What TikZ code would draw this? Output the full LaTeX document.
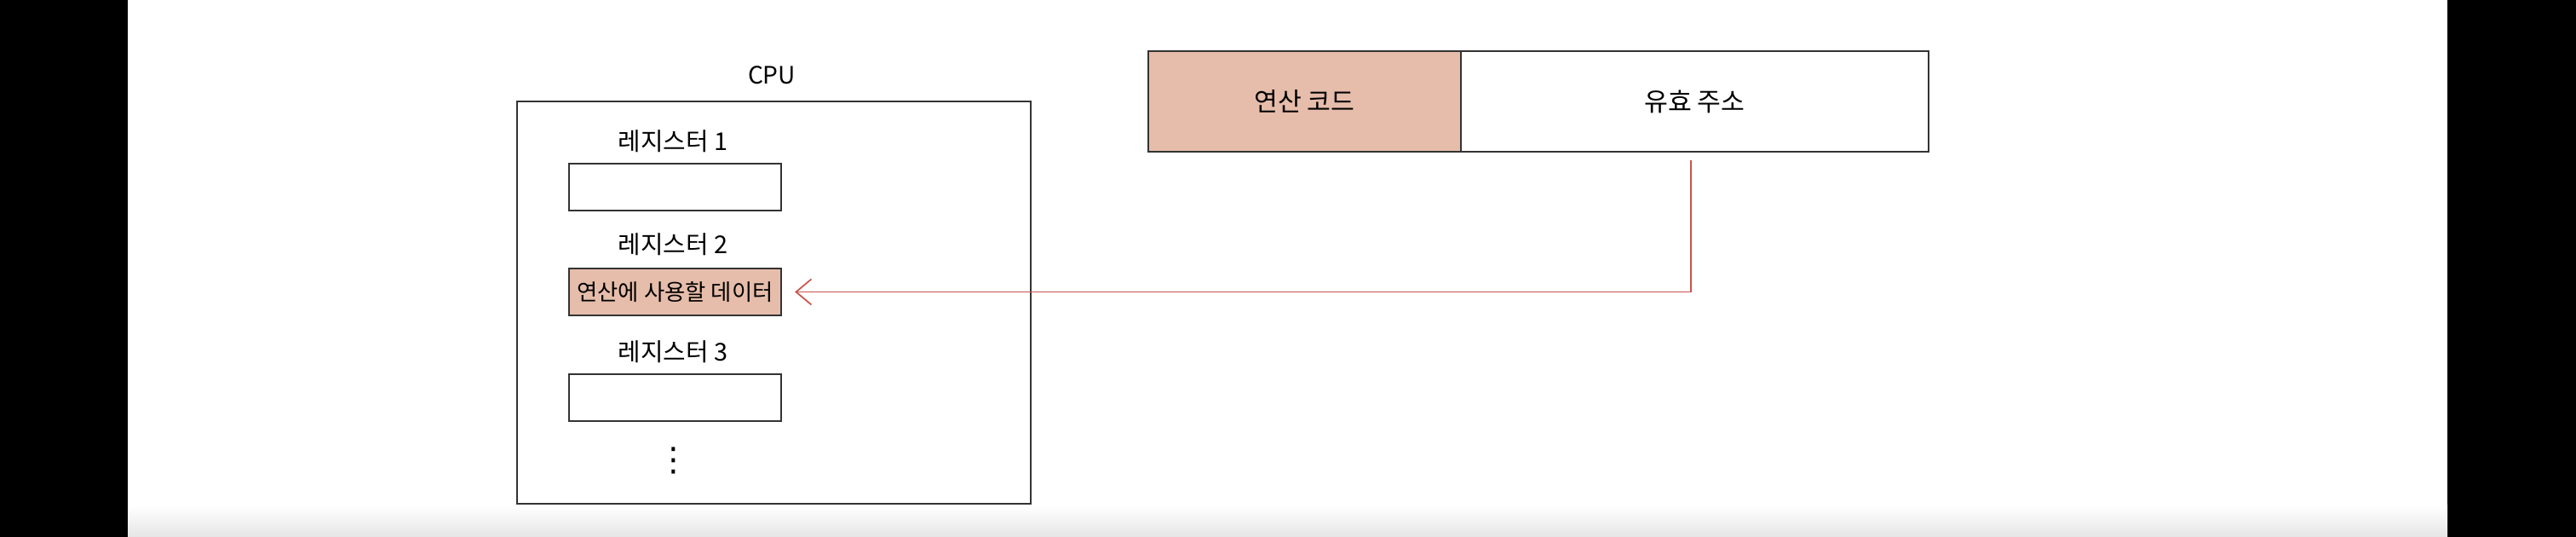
\documentclass[tikz,border=0pt]{standalone}
\usepackage{fontspec}
\setmainfont{Noto Sans CJK KR}
\newfontfamily\dotsfont{DejaVu Sans}
\usepackage{tikz}
\usetikzlibrary{arrows.meta,positioning,calc}
\definecolor{opfill}{HTML}{E6BDAA}
\definecolor{ptrred}{HTML}{C8554F}
\tikzset{
  cpubox/.style={rectangle, draw=black!80, line width=0.6pt, minimum width=6.03cm, minimum height=4.72cm, inner sep=0pt},
  regbox/.style={rectangle, draw=black!80, line width=0.6pt, minimum width=2.49cm, minimum height=0.55cm, inner sep=0pt, align=center, fill=white, font=\fontsize{7.5}{9}\selectfont},
  reglabel/.style={font=\fontsize{8.2}{10}\selectfont, inner sep=0pt},
  field/.style={rectangle, draw=black!80, line width=0.6pt, minimum height=1.18cm, inner sep=0pt, align=center, font=\fontsize{8.6}{10}\selectfont},
  flow/.style={draw=ptrred, line width=0.5pt, -{Straight Barb[length=1.8mm,width=3mm]}},
}
\begin{document}
\begin{tikzpicture}
  \useasboundingbox (0,0) rectangle (30.24,-6.30);
  % frame of the video
  \fill[black] (0,0) rectangle (1.50,-6.30);
  \fill[black] (28.73,0) rectangle (30.24,-6.30);
  \shade[top color=white, bottom color=black!10] (1.50,-5.93) rectangle (28.73,-6.30);
  % cpu and its registers
  \node[cpubox] (cpu) at (9.085,-3.55) {};
  \node[reglabel, font=\fontsize{8}{10}\selectfont] (cpulbl) at (9.06,-0.88) {CPU};
  \node[reglabel] (lbl1) at (7.90,-1.66) {레지스터 1};
  \node[regbox] (reg1) at (7.925,-2.195) {};
  \node[reglabel] (lbl2) at (7.90,-2.87) {레지스터 2};
  \node[regbox, fill=opfill] (reg2) at (7.925,-3.425) {연산에 사용할 데이터};
  \node[reglabel] (lbl3) at (7.90,-4.13) {레지스터 3};
  \node[regbox] (reg3) at (7.925,-4.665) {};
  \node[reglabel, font=\dotsfont\fontsize{11}{12}\selectfont] (more) at (7.91,-5.40) {⋮};
  % instruction
  \node[field, fill=opfill, minimum width=3.67cm] (opcode) at (15.315,-1.19) {연산 코드};
  \node[field, minimum width=5.49cm] (addr) at (19.895,-1.19) {유효 주소};
  \coordinate (bend) at (19.85,-3.425);
  \draw[flow, shorten >=0.15cm] ([yshift=-0.09cm]addr.south -| bend) -- (bend) -- (reg2.east);
\end{tikzpicture}
\end{document}
